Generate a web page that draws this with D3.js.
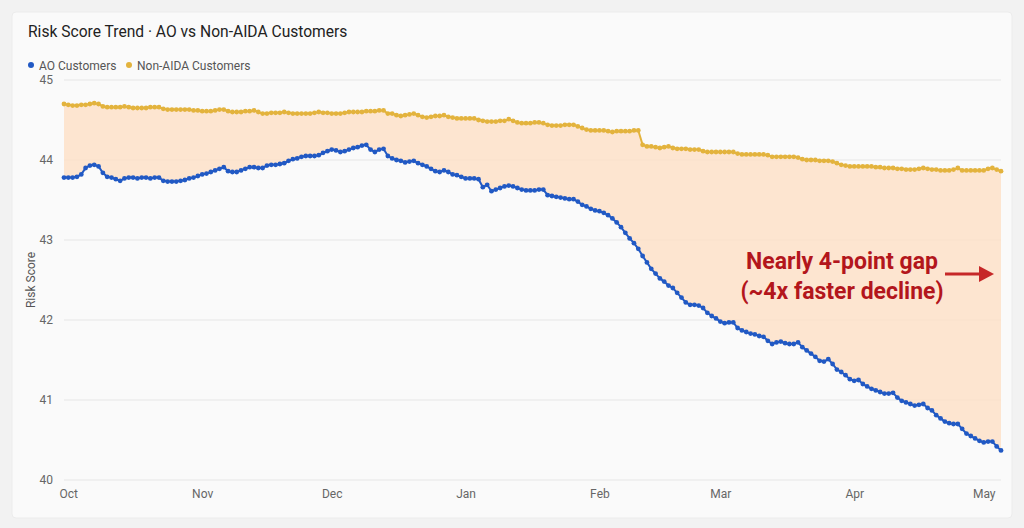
<!DOCTYPE html>
<meta charset="utf-8">
<script src="https://d3js.org/d3.v7.min.js"></script>
<style>
  body { margin: 0; background: #f2f2f2; font-family: Roboto, "Noto Sans", sans-serif; }
</style>
<div id="my_dataviz"></div>
<script>

// daily values, first day = startDate
var startDate = "2024-09-30";
var aoScores = [
  43.78,43.78,43.78,43.79,43.82,43.90,43.93,43.94,43.92,43.84,
  43.79,43.78,43.76,43.74,43.77,43.78,43.78,43.77,43.78,43.78,
  43.77,43.78,43.78,43.74,43.73,43.73,43.73,43.74,43.75,43.77,
  43.78,43.80,43.82,43.83,43.85,43.87,43.89,43.91,43.86,43.85,
  43.85,43.87,43.89,43.91,43.91,43.90,43.90,43.93,43.94,43.94,
  43.95,43.96,43.99,44.01,44.02,44.04,44.05,44.05,44.05,44.06,
  44.09,44.11,44.13,44.12,44.10,44.11,44.13,44.15,44.16,44.18,
  44.19,44.13,44.10,44.13,44.14,44.05,44.02,44.00,43.99,43.97,
  43.98,43.99,43.96,43.94,43.92,43.89,43.86,43.85,43.87,43.85,
  43.82,43.81,43.79,43.77,43.77,43.77,43.76,43.66,43.69,43.61,
  43.63,43.65,43.67,43.68,43.67,43.65,43.63,43.62,43.62,43.62,
  43.63,43.63,43.56,43.55,43.54,43.53,43.52,43.51,43.51,43.48,
  43.44,43.42,43.39,43.37,43.36,43.34,43.31,43.27,43.22,43.16,
  43.09,43.02,42.96,42.89,42.80,42.72,42.64,42.58,42.52,42.48,
  42.43,42.40,42.34,42.28,42.22,42.19,42.19,42.18,42.15,42.09,
  42.05,42.02,41.98,41.96,41.97,41.97,41.90,41.87,41.85,41.83,
  41.82,41.80,41.79,41.74,41.70,41.72,41.73,41.71,41.70,41.70,
  41.72,41.66,41.62,41.58,41.54,41.49,41.48,41.51,41.45,41.38,
  41.35,41.31,41.26,41.24,41.25,41.20,41.17,41.14,41.12,41.10,
  41.08,41.08,41.09,41.03,40.99,40.97,40.95,40.93,40.94,40.95,
  40.90,40.87,40.81,40.77,40.73,40.71,40.70,40.70,40.64,40.58,
  40.55,40.52,40.49,40.47,40.48,40.48,40.42,40.37
];
var nonAidaScores = [
  44.70,44.69,44.68,44.68,44.69,44.69,44.70,44.71,44.70,44.67,
  44.66,44.66,44.66,44.66,44.67,44.66,44.65,44.65,44.65,44.65,
  44.66,44.66,44.66,44.64,44.63,44.63,44.63,44.63,44.63,44.63,
  44.62,44.62,44.61,44.61,44.61,44.62,44.63,44.63,44.61,44.60,
  44.60,44.60,44.61,44.61,44.62,44.60,44.58,44.58,44.59,44.59,
  44.59,44.60,44.59,44.58,44.58,44.58,44.58,44.58,44.59,44.60,
  44.59,44.59,44.58,44.58,44.58,44.59,44.60,44.60,44.60,44.60,
  44.61,44.61,44.61,44.62,44.62,44.58,44.58,44.56,44.55,44.56,
  44.57,44.58,44.56,44.54,44.53,44.54,44.55,44.55,44.56,44.54,
  44.53,44.52,44.52,44.52,44.52,44.52,44.50,44.49,44.48,44.48,
  44.48,44.49,44.49,44.51,44.49,44.47,44.46,44.46,44.46,44.47,
  44.47,44.46,44.44,44.43,44.43,44.43,44.44,44.44,44.44,44.42,
  44.40,44.38,44.37,44.37,44.37,44.37,44.36,44.35,44.36,44.36,
  44.36,44.36,44.37,44.37,44.19,44.17,44.17,44.16,44.15,44.16,
  44.17,44.15,44.14,44.14,44.14,44.13,44.13,44.13,44.11,44.10,
  44.10,44.10,44.10,44.10,44.10,44.10,44.08,44.07,44.07,44.07,
  44.07,44.07,44.07,44.06,44.04,44.04,44.04,44.04,44.04,44.04,
  44.03,44.01,44.00,44.00,44.00,43.99,43.99,43.99,43.98,43.96,
  43.94,43.93,43.92,43.92,43.92,43.92,43.92,43.92,43.91,43.91,
  43.90,43.90,43.90,43.89,43.89,43.88,43.88,43.88,43.89,43.90,
  43.89,43.88,43.88,43.87,43.87,43.87,43.88,43.90,43.87,43.87,
  43.87,43.87,43.87,43.87,43.89,43.90,43.88,43.86
];
var yTicks = [40, 41, 42, 43, 44, 45];
var seriesNames = ["AO Customers", "Non-AIDA Customers"];
var seriesColors = ["#2159c4", "#e3b33d"];

var W = 1024, H = 528;
var margin = {top: 80, right: 23, bottom: 48, left: 64};

var svg = d3.select("#my_dataviz")
  .append("svg")
    .attr("width", W)
    .attr("height", H);

// card
svg.append("rect")
  .attr("x", 12).attr("y", 12)
  .attr("width", W - 24).attr("height", H - 22)
  .attr("rx", 4)
  .attr("fill", "#fafafa")
  .attr("stroke", "#ececec");

var start = new Date(startDate + "T00:00:00Z");
var data = aoScores.map(function(v, i) {
  return {date: d3.utcDay.offset(start, i), ao: v, non: nonAidaScores[i]};
});

var x = d3.scaleUtc()
  .domain(d3.extent(data, function(d) { return d.date; }))
  .range([margin.left, W - margin.right]);

var y = d3.scaleLinear()
  .domain([40, 45])
  .range([H - margin.bottom, margin.top]);

// grid
svg.append("g")
  .selectAll("line")
  .data(yTicks)
  .enter().append("line")
    .attr("x1", margin.left).attr("x2", W - margin.right)
    .attr("y1", function(d) { return y(d); })
    .attr("y2", function(d) { return y(d); })
    .attr("stroke", "#e6e6e6");

// gap area
var area = d3.area()
  .x(function(d) { return x(d.date); })
  .y0(function(d) { return y(d.ao); })
  .y1(function(d) { return y(d.non); });
svg.append("path")
  .datum(data)
  .attr("d", area)
  .attr("fill", "#fde0c8")
  .attr("opacity", 0.85);

// axes
var yAxis = svg.append("g")
  .attr("transform", "translate(" + (margin.left - 8) + ",0)")
  .call(d3.axisLeft(y).tickValues(yTicks).tickSize(0).tickFormat(d3.format("d")));
yAxis.select(".domain").remove();
yAxis.selectAll("text")
  .attr("fill", "#666").style("font-size", "12px").style("font-family", "Roboto");

var xAxis = svg.append("g")
  .attr("transform", "translate(0," + (H - margin.bottom + 6) + ")")
  .call(d3.axisBottom(x).ticks(d3.utcMonth.every(1)).tickSize(0).tickFormat(d3.utcFormat("%b")));
xAxis.select(".domain").remove();
xAxis.selectAll("text")
  .attr("fill", "#666").style("font-size", "12px").style("font-family", "Roboto");

svg.append("text")
  .attr("transform", "translate(35," + ((margin.top + H - margin.bottom) / 2) + ")rotate(-90)")
  .attr("text-anchor", "middle")
  .attr("fill", "#555")
  .style("font-size", "12px")
  .text("Risk Score");

// lines + dots
["non", "ao"].forEach(function(key) {
  var color = key === "ao" ? seriesColors[0] : seriesColors[1];
  var line = d3.line()
    .x(function(d) { return x(d.date); })
    .y(function(d) { return y(d[key]); });
  svg.append("path")
    .datum(data)
    .attr("d", line)
    .attr("fill", "none")
    .attr("stroke", color)
    .attr("stroke-width", 2);
  svg.append("g")
    .selectAll("circle")
    .data(data)
    .enter().append("circle")
      .attr("cx", function(d) { return x(d.date); })
      .attr("cy", function(d) { return y(d[key]); })
      .attr("r", 2.4)
      .attr("fill", color);
});

// title + legend
svg.append("text")
  .attr("x", 28).attr("y", 37)
  .attr("fill", "#222")
  .style("font-size", "15.6px")
  .text("Risk Score Trend · AO vs Non-AIDA Customers");

var lx = [31, 129];
seriesNames.forEach(function(name, i) {
  svg.append("circle")
    .attr("cx", lx[i]).attr("cy", 65).attr("r", 3)
    .attr("fill", seriesColors[i]);
  svg.append("text")
    .attr("x", lx[i] + 8).attr("y", 69.5)
    .attr("fill", "#555")
    .style("font-size", "12px")
    .text(name);
});

// annotation
var ann = svg.append("g");
ann.append("text")
  .attr("x", 842).attr("y", 269)
  .attr("text-anchor", "middle")
  .attr("fill", "#b3161c")
  .style("font-size", "23px").style("font-weight", "bold")
  .text("Nearly 4-point gap");
ann.append("text")
  .attr("x", 842).attr("y", 299)
  .attr("text-anchor", "middle")
  .attr("fill", "#b3161c")
  .style("font-size", "23px").style("font-weight", "bold")
  .text("(~4x faster decline)");
ann.append("line")
  .attr("x1", 945).attr("x2", 981)
  .attr("y1", 274).attr("y2", 274)
  .attr("stroke", "#c62828").attr("stroke-width", 3);
ann.append("path")
  .attr("d", "M979,266 L994,274 L979,282 Z")
  .attr("fill", "#c62828");

</script>
